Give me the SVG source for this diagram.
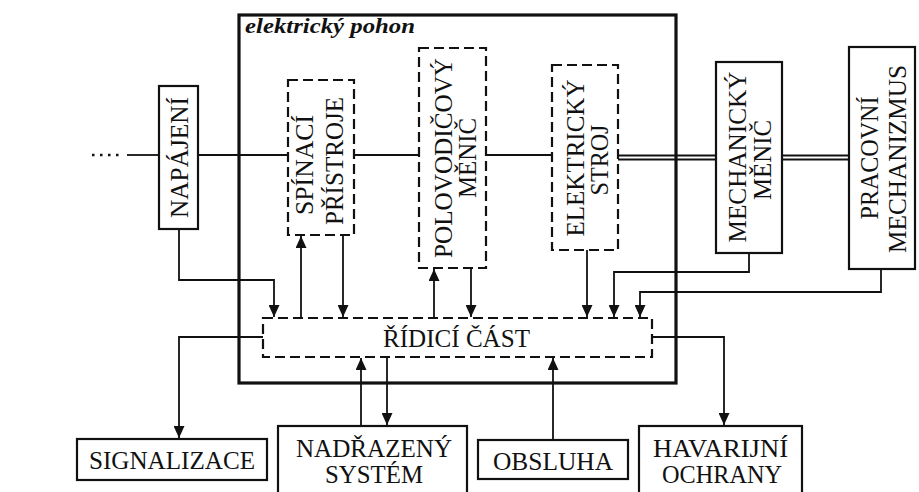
<svg xmlns="http://www.w3.org/2000/svg" width="919" height="492" viewBox="0 0 919 492">
<style>
text{font-family:"Liberation Serif","Times New Roman",serif;font-size:25px;fill:#111}
.c{text-anchor:middle}
.box{fill:#fff;stroke:#111;stroke-width:2.2}
.dbox{fill:none;stroke:#111;stroke-width:2.2;stroke-dasharray:10,5}
.ln{fill:none;stroke:#111;stroke-width:1.8}
.arr{fill:none;stroke:#111;stroke-width:1.8;marker-end:url(#ah)}
</style>
<defs>
<marker id="ah" markerUnits="userSpaceOnUse" markerWidth="12" markerHeight="11" refX="12" refY="5.5" orient="auto" viewBox="0 0 12 11">
<path d="M0,0 L12,5.5 L0,11 z" fill="#111"/>
</marker>
</defs>
<rect width="919" height="492" fill="#fff"/>

<g id="frame">
<rect x="239" y="15" width="437" height="368" fill="none" stroke="#111" stroke-width="3.2"/>
<text x="245" y="33" font-style="italic" font-weight="bold" style="font-size:22px" textLength="170" lengthAdjust="spacingAndGlyphs">elektrický pohon</text>
</g>

<g id="connectors">
<line x1="92" y1="155" x2="124" y2="155" stroke="#111" stroke-width="2.5" stroke-dasharray="2.5,5.5"/>
<line class="ln" x1="127" y1="155" x2="159" y2="155"/>
<line class="ln" x1="198" y1="155" x2="288" y2="155"/>
<line class="ln" x1="354" y1="155" x2="419" y2="155"/>
<line class="ln" x1="486" y1="155" x2="552" y2="155"/>
<line class="ln" x1="618" y1="155.5" x2="716" y2="155.5"/>
<line class="ln" x1="618" y1="159.5" x2="716" y2="159.5"/>
<line class="ln" x1="782" y1="155.5" x2="849" y2="155.5"/>
<line class="ln" x1="782" y1="159.5" x2="849" y2="159.5"/>
<polyline class="arr" points="179,229 179,280 274,280 274,317"/>
<line class="arr" x1="301" y1="318" x2="301" y2="236"/>
<line class="arr" x1="343" y1="235" x2="343" y2="317"/>
<line class="arr" x1="434" y1="318" x2="434" y2="269"/>
<line class="arr" x1="471" y1="268" x2="471" y2="317"/>
<line class="arr" x1="587" y1="250" x2="587" y2="317"/>
<polyline class="arr" points="749,253 749,272 614,272 614,317"/>
<polyline class="arr" points="881,269 881,292 640,292 640,317"/>
<polyline class="arr" points="263,337 179,337 179,438"/>
<line class="arr" x1="361" y1="426" x2="361" y2="358"/>
<line class="arr" x1="387" y1="357" x2="387" y2="425"/>
<line class="arr" x1="553" y1="440" x2="553" y2="358"/>
<polyline class="arr" points="652,337 724,337 724,425"/>
</g>

<g id="napajeni">
<rect class="box" x="159" y="86" width="39" height="143"/>
<text class="c" transform="translate(188,157.5) rotate(-90)" textLength="121" lengthAdjust="spacingAndGlyphs">NAPÁJENÍ</text>
</g>

<g id="spinaci">
<rect class="dbox" x="288" y="80" width="66" height="155"/>
<text class="c" transform="translate(313,165) rotate(-90)" textLength="100" lengthAdjust="spacingAndGlyphs">SPÍNACÍ</text>
<text class="c" transform="translate(343,161) rotate(-90)" textLength="128" lengthAdjust="spacingAndGlyphs">PŘÍSTROJE</text>
</g>

<g id="polovodic">
<rect class="dbox" x="419" y="48" width="67" height="220"/>
<text class="c" transform="translate(452,158) rotate(-90)" textLength="200" lengthAdjust="spacingAndGlyphs">POLOVODIČOVÝ</text>
<text class="c" transform="translate(476,158) rotate(-90)" textLength="80" lengthAdjust="spacingAndGlyphs">MĚNIČ</text>
</g>

<g id="elektricky-stroj">
<rect class="dbox" x="552" y="65" width="66" height="185"/>
<text class="c" transform="translate(584,158) rotate(-90)" textLength="157" lengthAdjust="spacingAndGlyphs">ELEKTRICKÝ</text>
<text class="c" transform="translate(608,160) rotate(-90)" textLength="71" lengthAdjust="spacingAndGlyphs">STROJ</text>
</g>

<g id="mechanicky">
<rect class="box" x="716" y="62" width="66" height="191"/>
<text class="c" transform="translate(746,157) rotate(-90)" textLength="171" lengthAdjust="spacingAndGlyphs">MECHANICKÝ</text>
<text class="c" transform="translate(771,160) rotate(-90)" textLength="80" lengthAdjust="spacingAndGlyphs">MĚNIČ</text>
</g>

<g id="pracovni">
<rect class="box" x="849" y="47" width="66" height="222"/>
<text class="c" transform="translate(878,158) rotate(-90)" textLength="123" lengthAdjust="spacingAndGlyphs">PRACOVNÍ</text>
<text class="c" transform="translate(906,159) rotate(-90)" textLength="188" lengthAdjust="spacingAndGlyphs">MECHANIZMUS</text>
</g>

<g id="ridici">
<rect class="dbox" x="263" y="318" width="389" height="39"/>
<text class="c" x="456.5" y="347" textLength="147" lengthAdjust="spacingAndGlyphs">ŘÍDICÍ ČÁST</text>
</g>

<g id="signalizace">
<rect class="box" x="77" y="439" width="190" height="41"/>
<text class="c" x="172" y="469" textLength="166" lengthAdjust="spacingAndGlyphs">SIGNALIZACE</text>
</g>

<g id="nadrazeny">
<rect class="box" x="278" y="426" width="189" height="70"/>
<text class="c" x="374" y="457" textLength="156" lengthAdjust="spacingAndGlyphs">NADŘAZENÝ</text>
<text class="c" x="374" y="483" textLength="98" lengthAdjust="spacingAndGlyphs">SYSTÉM</text>
</g>

<g id="obsluha">
<rect class="box" x="478" y="440" width="150" height="39"/>
<text class="c" x="553" y="470" textLength="120" lengthAdjust="spacingAndGlyphs">OBSLUHA</text>
</g>

<g id="havarijni">
<rect class="box" x="639" y="426" width="163" height="70"/>
<text class="c" x="720.5" y="457" textLength="135" lengthAdjust="spacingAndGlyphs">HAVARIJNÍ</text>
<text class="c" x="722" y="483" textLength="120" lengthAdjust="spacingAndGlyphs">OCHRANY</text>
</g>
</svg>
